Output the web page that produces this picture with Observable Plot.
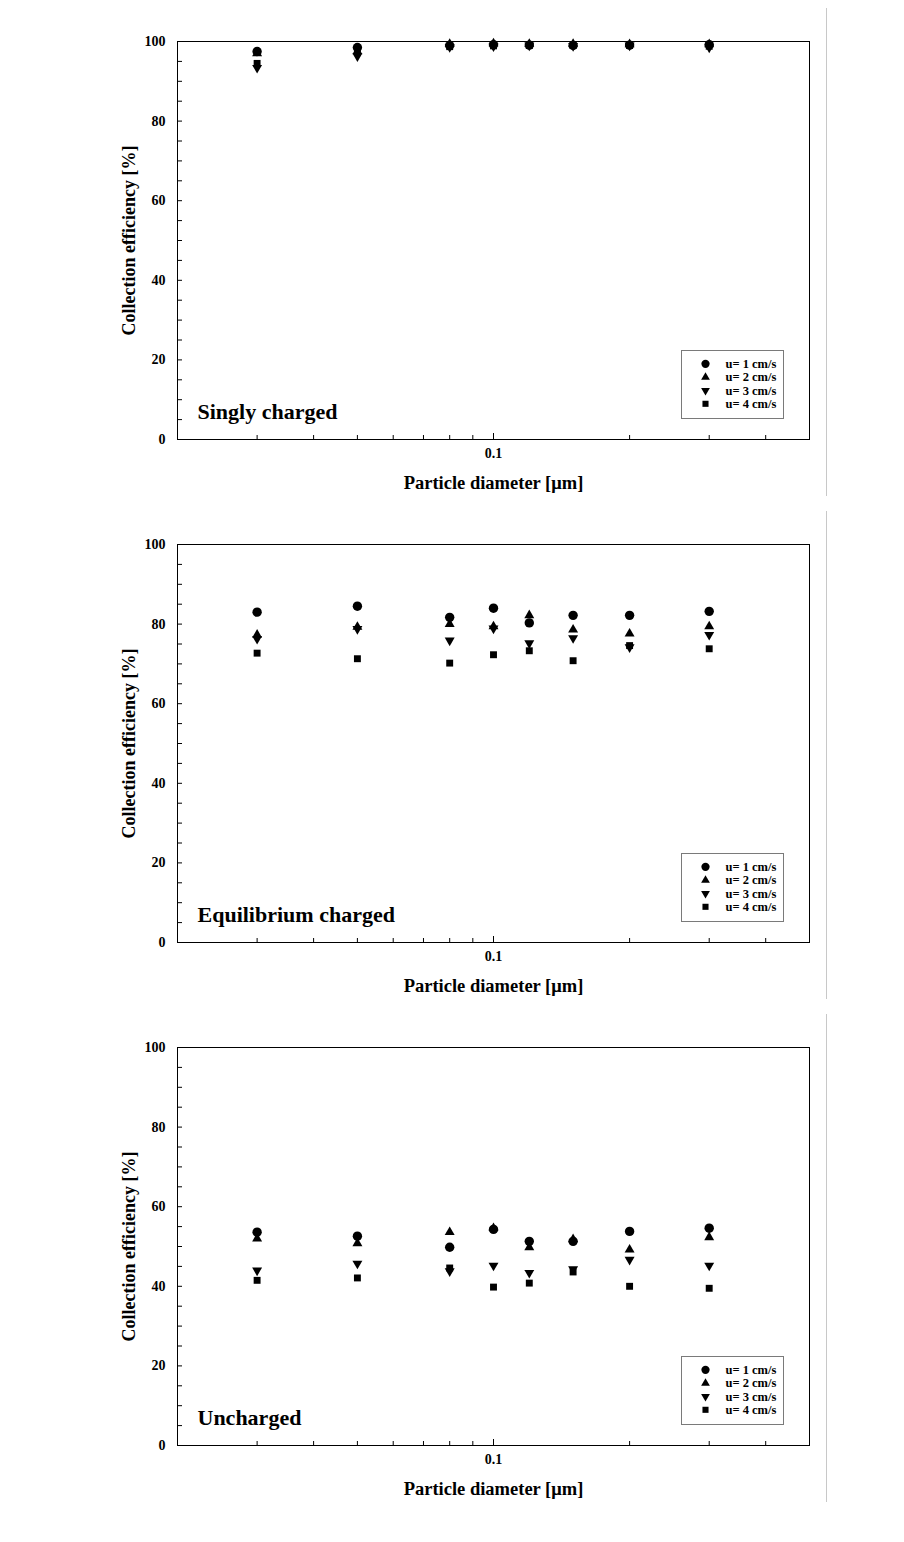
<!DOCTYPE html>
<html>
<head>
<meta charset="utf-8">
<script src="https://cdn.jsdelivr.net/npm/d3@7"></script>
<script src="https://cdn.jsdelivr.net/npm/@observablehq/plot@0.6"></script>
<style>
  body { margin: 0; background: #ffffff; }
  #root { width: 904px; }
  .panel { position: relative; width: 904px; height: 503px; }
  .panel svg { display: block; }
  .sep { position: absolute; left: 826px; top: 8px; width: 1px; height: 488px; background: #c8c8c8; }
</style>
</head>
<body>
<div id="root"></div>
<script>
// ---------- data ----------
const diameters = [0.03, 0.05, 0.08, 0.1, 0.12, 0.15, 0.2, 0.3];
const seriesLabels = ["u= 1 cm/s", "u= 2 cm/s", "u= 3 cm/s", "u= 4 cm/s"];
const panelTitles = ["Singly charged", "Equilibrium charged", "Uncharged"];

const singlyU1 = [97.5, 98.5, 99.0, 99.2, 99.1, 99.0, 99.1, 99.2];
const singlyU2 = [97.0, 97.5, 99.4, 99.5, 99.4, 99.4, 99.3, 99.3];
const singlyU3 = [93.4, 96.3, 98.6, 98.8, 99.0, 98.9, 99.0, 98.5];
const singlyU4 = [94.5, 97.2, 98.7, 98.9, 99.0, 99.0, 99.0, 98.8];

const equilU1 = [83.0, 84.5, 81.7, 84.0, 80.3, 82.2, 82.2, 83.2];
const equilU2 = [77.3, 79.3, 80.0, 79.4, 82.2, 78.6, 77.6, 79.4];
const equilU3 = [76.3, 78.8, 75.9, 78.9, 75.2, 76.5, 74.2, 77.3];
const equilU4 = [72.7, 71.3, 70.2, 72.3, 73.3, 70.8, 74.6, 73.8];

const unchU1 = [53.6, 52.6, 49.8, 54.3, 51.3, 51.3, 53.8, 54.6];
const unchU2 = [52.0, 50.8, 53.6, 54.6, 49.8, 51.8, 49.2, 52.3];
const unchU3 = [44.0, 45.7, 43.8, 45.2, 43.4, 44.3, 46.7, 45.2];
const unchU4 = [41.5, 42.1, 44.6, 39.8, 40.8, 43.6, 40.0, 39.5];

const yMajorTicks = [0, 20, 40, 60, 80, 100];
const yMinorTicks = [5, 10, 15, 25, 30, 35, 45, 50, 55, 65, 70, 75, 85, 90, 95];
const xMajorTicks = [0.1];
const xTickLabels = ["0.1"];
const xMinorTicks = [0.03, 0.04, 0.05, 0.06, 0.07, 0.08, 0.09, 0.2, 0.3, 0.4];

const xTitle = "Particle diameter [\u03bcm]";
const yTitle = "Collection efficiency [%]";

// ---------- symbols ----------
const triangleDown = {
  draw(context, size) {
    const sqrt3 = Math.sqrt(3);
    const y = -Math.sqrt(size / (sqrt3 * 3));
    context.moveTo(0, -y * 2);
    context.lineTo(-sqrt3 * y, y);
    context.lineTo(sqrt3 * y, y);
    context.closePath();
  }
};
const seriesSymbols = ["circle", "triangle", triangleDown, "square"];
const seriesRadius = [4.7, 3.7, 3.7, 3.9];

// ---------- layout ----------
const W = 904, H = 503;
const mTop = 41, mBottom = 64, mLeft = 177, mRight = 95;
const innerW = W - mLeft - mRight, innerH = H - mTop - mBottom;
const font = "'Liberation Serif', 'Times New Roman', Times, serif";

function makePanel(title, series) {
  const marks = [
    Plot.frame({stroke: "black", strokeWidth: 1}),
    Plot.tickY(yMajorTicks.concat(yMinorTicks), {y: d => d, insetRight: innerW - 5, stroke: "black"}),
    Plot.tickX(xMinorTicks, {x: d => d, insetTop: innerH - 4, stroke: "black"}),
    Plot.tickX(xMajorTicks, {x: d => d, insetTop: innerH - 6, stroke: "black"}),
    Plot.axisY(yMajorTicks, {tickSize: 0, tickPadding: 12, label: null, fontSize: 14, fontWeight: "bold"}),
    Plot.axisX(xMajorTicks, {tickSize: 0, tickPadding: 9, label: null, fontSize: 14, fontWeight: "bold",
      tickFormat: d => xTickLabels[xMajorTicks.indexOf(d)]}),
    Plot.text([xTitle], {frameAnchor: "bottom", dy: 44, textAnchor: "middle", lineAnchor: "middle", fontSize: 18.5, fontWeight: "bold"}),
    Plot.text([yTitle], {frameAnchor: "left", rotate: -90, dx: -48, textAnchor: "middle", lineAnchor: "middle", fontSize: 18, fontWeight: "bold"}),
    Plot.text([title], {frameAnchor: "bottom-left", dx: 20, dy: -28, textAnchor: "start", lineAnchor: "middle", fontSize: 22, fontWeight: "bold"})
  ];
  // data points (u4 drawn first, u1 last)
  for (let i = series.length - 1; i >= 0; --i) {
    marks.push(Plot.dot(diameters, {
      x: d => d,
      y: (d, j) => series[i][j],
      symbol: seriesSymbols[i],
      r: seriesRadius[i],
      fill: "black",
      stroke: "none"
    }));
  }
  // legend box
  marks.push(Plot.frame({fill: "white", stroke: "#7a7a7a", strokeWidth: 1,
    insetLeft: innerW - 26 - 102, insetRight: 26, insetTop: innerH - 21 - 68, insetBottom: 21}));
  const rowDy = [-75.7, -62.3, -49, -35.7];
  seriesLabels.forEach((lab, i) => {
    marks.push(Plot.dot([lab], {frameAnchor: "bottom-right", dx: -104, dy: rowDy[i],
      symbol: seriesSymbols[i], r: seriesRadius[i] * 0.88, fill: "black", stroke: "none"}));
    marks.push(Plot.text([lab], {frameAnchor: "bottom-right", dx: -84, dy: rowDy[i],
      text: d => d, textAnchor: "start", lineAnchor: "middle", fontSize: 12.5, fontWeight: "bold"}));
  });

  return Plot.plot({
    width: W, height: H,
    marginTop: mTop, marginBottom: mBottom, marginLeft: mLeft, marginRight: mRight,
    x: {type: "log", domain: [0.02, 0.5]},
    y: {domain: [0, 100]},
    style: {fontFamily: font, fontSize: "14px", color: "black", background: "white"},
    marks
  });
}

const root = document.getElementById("root");
const allSeries = [
  [singlyU1, singlyU2, singlyU3, singlyU4],
  [equilU1, equilU2, equilU3, equilU4],
  [unchU1, unchU2, unchU3, unchU4]
];
panelTitles.forEach((t, k) => {
  const div = document.createElement("div");
  div.className = "panel";
  div.appendChild(makePanel(t, allSeries[k]));
  const sep = document.createElement("div");
  sep.className = "sep";
  div.appendChild(sep);
  root.appendChild(div);
});
</script>
</body>
</html>
